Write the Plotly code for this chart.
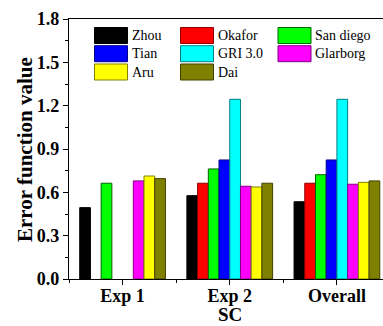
import plotly.graph_objects as go

categories = ["Exp 1", "Exp 2", "Overall"]
series_names = ["Zhou", "Okafor", "San diego", "Tian", "GRI 3.0", "Glarborg", "Aru", "Dai"]
series_colors = ["#000000", "#FF0000", "#00FF00", "#0000FF", "#00FFFF", "#FF00FF", "#FFFF00", "#808000"]
edge_colors = ["#000000", "#8B0000", "#006400", "#00008B", "#008080", "#800080", "#808000", "#404000"]
values = {
    "Zhou":      [0.494, 0.577, 0.535],
    "Okafor":    [None,  0.663, 0.663],
    "San diego": [0.663, 0.762, 0.722],
    "Tian":      [None,  0.824, 0.824],
    "GRI 3.0":   [None,  1.244, 1.244],
    "Glarborg":  [0.679, 0.642, 0.656],
    "Aru":       [0.713, 0.637, 0.669],
    "Dai":       [0.695, 0.663, 0.679],
}
y_ticks = [0.0, 0.3, 0.6, 0.9, 1.2, 1.5, 1.8]

W, H = 383, 326
L, R, T, B = 69, 0, 19, 47
pw, ph = W - L - R, H - T - B

def px(x):
    return (x - L) / pw

def py(y):
    return (H - B - y) / ph

FONT = "Liberation Serif, Times New Roman, serif"
xpos = list(range(len(categories)))

fig = go.Figure()
for name, col, ec in zip(series_names, series_colors, edge_colors):
    fig.add_trace(go.Bar(
        x=xpos, y=values[name], name=name,
        marker=dict(color=col, line=dict(color=ec, width=1)),
        showlegend=False,
    ))

shapes = []
annotations = []
col_x = [94.5, 180.5, 278]
row_y = [35.5, 53.7, 72]
sw_w, sw_h = 33, 16
for i, (name, col, ec) in enumerate(zip(series_names, series_colors, edge_colors)):
    c, r = i % 3, i // 3
    x0 = col_x[c]
    yc = row_y[r]
    shapes.append(dict(type="rect", xref="paper", yref="paper",
                       x0=px(x0), x1=px(x0 + sw_w),
                       y0=py(yc + sw_h / 2), y1=py(yc - sw_h / 2),
                       fillcolor=col, line=dict(color=ec, width=1)))
    annotations.append(dict(xref="paper", yref="paper", x=px(x0 + sw_w + 2), y=py(yc),
                            text=name, showarrow=False, xanchor="left", yanchor="middle",
                            font=dict(family=FONT, size=14, color="black")))

annotations.append(dict(xref="paper", yref="paper", x=px(25), y=py(150),
                        text="<b>Error function value</b>", textangle=-90, showarrow=False,
                        xanchor="center", yanchor="middle",
                        font=dict(family=FONT, size=21, color="black")))
annotations.append(dict(xref="paper", yref="paper", x=px(230), y=py(326),
                        text="<b>SC</b>", showarrow=False,
                        xanchor="center", yanchor="bottom", borderpad=0,
                        font=dict(family=FONT, size=19, color="black")))

fig.update_layout(
    width=W, height=H,
    margin=dict(l=L, r=R, t=T, b=B, autoexpand=False),
    paper_bgcolor="white", plot_bgcolor="white",
    barmode="group", bargap=0.2, bargroupgap=0,
    shapes=shapes, annotations=annotations,
    font=dict(family=FONT, color="black"),
)
fig.update_xaxes(
    range=[-0.5, 2.43], tickmode="array", tickvals=xpos,
    ticktext=["<b>%s</b>" % c for c in categories],
    tickfont=dict(family=FONT, size=18, color="black"),
    ticks="outside", ticklen=5, tickwidth=1, tickcolor="black",
    ticklabelstandoff=-5,
    minor=dict(tickmode="array", tickvals=[-0.5, 0.5, 1.5], ticks="outside", ticklen=3, tickcolor="black", tickwidth=1),
    showline=True, linecolor="black", linewidth=1.2, mirror=True,
    showgrid=False, zeroline=False, fixedrange=True,
)
fig.update_yaxes(
    range=[0, 1.8], tickmode="array", tickvals=y_ticks,
    ticktext=["<b>%.1f</b>" % v for v in y_ticks],
    tickfont=dict(family=FONT, size=18, color="black"),
    ticks="outside", ticklen=5, tickwidth=1, tickcolor="black",
    minor=dict(dtick=0.15, ticks="outside", ticklen=3, tickcolor="black", tickwidth=1),
    showline=True, linecolor="black", linewidth=1.2, mirror=True,
    showgrid=False, zeroline=False, fixedrange=True,
)
fig.write_html("out.html", config={"displayModeBar": False},
               post_script="document.body.style.margin='0';document.body.style.overflow='hidden';")
